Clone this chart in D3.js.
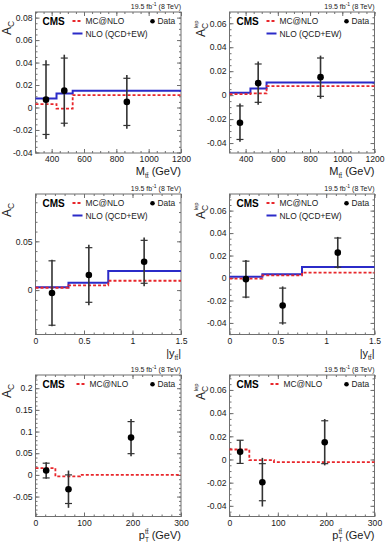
<!DOCTYPE html>
<html>
<head>
<meta charset="utf-8">
<script src="https://cdn.jsdelivr.net/npm/d3@7"></script>
<style>
body { margin: 0; background: #fff; }
text { font-family: "Liberation Sans", Arial, Helvetica, sans-serif; }
</style>
</head>
<body>
<script>
// bin edges (first / last edge = axis range)
var mttEdges = [300, 430, 530, 1200]
var yttEdges = [0, 0.34, 0.75, 1.5]
var ptEdges = [0, 41, 92, 300]

// where the data points sit inside each bin
var mttX = [365, 478, 865]
var yttX = [0.17, 0.55, 1.12]
var ptX = [22, 68, 197]

// tick labels
var mttTicks = [400, 600, 800, 1000, 1200]
var yttTicks = [0, 0.5, 1, 1.5]
var ptTicks = [0, 100, 200, 300]
var acTicksA = [-0.04, -0.02, 0, 0.02, 0.04, 0.06, 0.08]
var acTicksB = [-0.04, -0.02, 0, 0.02, 0.04, 0.06]
var acTicksC = [0, 0.05]
var acTicksD = [-0.05, 0, 0.05, 0.1, 0.15, 0.2]

// A_C vs M_tt
var acMtt = [0.007, 0.015, 0.005]
var acMttStat = [0.031, 0.029, 0.021]
var acMttTot = [0.035, 0.032, 0.024]
var acMttMc = [0.003, -0.001, 0.011]
var acMttNlo = [0.008, 0.0125, 0.015]

// A_C^lep vs M_tt
var alMtt = [-0.023, 0.010, 0.015]
var alMttStat = [0.014, 0.016, 0.016]
var alMttTot = [0.016, 0.018, 0.018]
var alMttMc = [0.0008, 0.0014, 0.0075]
var alMttNlo = [0.002, 0.0056, 0.0105]

// A_C vs |y_tt|
var acYtt = [-0.003, 0.0155, 0.029]
var acYttStat = [0.033, 0.028, 0.022]
var acYttTot = [0.034, 0.031, 0.025]
var acYttMc = [0.0024, 0.0049, 0.0096]
var acYttNlo = [0.0028, 0.0076, 0.0197]

// A_C^lep vs |y_tt|
var alYtt = [-0.001, -0.0245, 0.0226]
var alYttStat = [0.016, 0.0155, 0.013]
var alYttTot = [0.017, 0.017, 0.014]
var alYttMc = [-0.0005, 0.0024, 0.0048]
var alYttNlo = [0.0012, 0.0033, 0.0098]

// A_C vs pT_tt
var acPt = [0.010, -0.033, 0.086]
var acPtStat = [0.017, 0.033, 0.037]
var acPtTot = [0.019, 0.043, 0.043]
var acPtMc = [0.0154, -0.0035, 0.0]

// A_C^lep vs pT_tt
var alPt = [0.0066, -0.0196, 0.0149]
var alPtStat = [0.010, 0.016, 0.0185]
var alPtTot = [0.010, 0.021, 0.020]
var alPtMc = [0.0086, -0.0006, -0.0023]

var W = 385, H = 550
var cols = [{ left: 35.5, right: 181 }, { left: 229.5, right: 374.5 }]
var rows = [{ top: 12, bottom: 153 }, { top: 194, bottom: 334.5 }, { top: 375, bottom: 516.5 }]
var red = '#e8262b', blue = '#2b2bc8', ink = '#1a1a1a', frameCol = '#6f6f6f'

var svg = d3.select('body').append('svg')
    .attr('width', W)
    .attr('height', H)

var fmt = function (v) { return String(+v.toFixed(3)) }

// minor ticks between a and b
var minors = function (a, b, s) {
    var out = []
    for (var k = Math.ceil(a / s - 1e-9); k * s <= b + 1e-9; k++) out.push(+(k * s).toFixed(6))
    return out
}

var panels = [
    { col: 0, row: 0, xDom: [300, 1200], yDom: [-0.0405, 0.085], xTicks: mttTicks, xMinor: 50, yTicks: acTicksA, yMinor: 0.005,
      edges: mttEdges, px: mttX, val: acMtt, stat: acMttStat, tot: acMttTot, mc: acMttMc, nlo: acMttNlo, lep: false, xvar: 'mtt' },
    { col: 1, row: 0, xDom: [300, 1200], yDom: [-0.0483, 0.0694], xTicks: mttTicks, xMinor: 50, yTicks: acTicksB, yMinor: 0.005,
      edges: mttEdges, px: mttX, val: alMtt, stat: alMttStat, tot: alMttTot, mc: alMttMc, nlo: alMttNlo, lep: true, xvar: 'mtt' },
    { col: 0, row: 1, xDom: [0, 1.5], yDom: [-0.0455, 0.0985], xTicks: yttTicks, xMinor: 0.1, yTicks: acTicksC, yMinor: 0.01,
      edges: yttEdges, px: yttX, val: acYtt, stat: acYttStat, tot: acYttTot, mc: acYttMc, nlo: acYttNlo, lep: false, xvar: 'ytt' },
    { col: 1, row: 1, xDom: [0, 1.5], yDom: [-0.0503, 0.0748], xTicks: yttTicks, xMinor: 0.1, yTicks: acTicksB, yMinor: 0.005,
      edges: yttEdges, px: yttX, val: alYtt, stat: alYttStat, tot: alYttTot, mc: alYttMc, nlo: alYttNlo, lep: true, xvar: 'ytt' },
    { col: 0, row: 2, xDom: [0, 300], yDom: [-0.096, 0.2305], xTicks: ptTicks, xMinor: 20, yTicks: acTicksD, yMinor: 0.01,
      edges: ptEdges, px: ptX, val: acPt, stat: acPtStat, tot: acPtTot, mc: acPtMc, nlo: null, lep: false, xvar: 'pt' },
    { col: 1, row: 2, xDom: [0, 300], yDom: [-0.0492, 0.0729], xTicks: ptTicks, xMinor: 20, yTicks: acTicksB, yMinor: 0.005,
      edges: ptEdges, px: ptX, val: alPt, stat: alPtStat, tot: alPtTot, mc: alPtMc, nlo: null, lep: true, xvar: 'pt' }
]

var drawPanel = function (p) {
    var L = cols[p.col].left, R = cols[p.col].right
    var T = rows[p.row].top, B = rows[p.row].bottom
    var x = d3.scaleLinear().domain(p.xDom).range([L, R])
    var y = d3.scaleLinear().domain(p.yDom).range([B, T])
    var g = svg.append('g')

    var xMin = minors(p.xDom[0], p.xDom[1], p.xMinor)
    var yMin = minors(p.yDom[0], p.yDom[1], p.yMinor)

    // axes, ticks pointing inward on all four sides
    var put = function (ax, tx, ty) {
        var a = g.append('g').attr('transform', 'translate(' + tx + ',' + ty + ')').call(ax)
        a.select('.domain').remove()
        a.selectAll('line').attr('stroke', frameCol)
        return a
    }
    put(d3.axisBottom(x).tickValues(xMin).tickSize(-2).tickFormat(''), 0, B)
    put(d3.axisTop(x).tickValues(xMin).tickSize(-2).tickFormat(''), 0, T)
    put(d3.axisTop(x).tickValues(p.xTicks).tickSize(-4).tickFormat(''), 0, T)
    put(d3.axisLeft(y).tickValues(yMin).tickSize(-2).tickFormat(''), L, 0)
    put(d3.axisRight(y).tickValues(yMin).tickSize(-2).tickFormat(''), R, 0)
    put(d3.axisRight(y).tickValues(p.yTicks).tickSize(-4).tickFormat(''), R, 0)
    var xa = put(d3.axisBottom(x).tickValues(p.xTicks).tickSize(-4).tickPadding(3).tickFormat(fmt), 0, B)
    var ya = put(d3.axisLeft(y).tickValues(p.yTicks).tickSize(-4).tickPadding(3).tickFormat(fmt), L, 0)
    xa.selectAll('text').attr('font-size', 8.6).attr('fill', ink).attr('font-family', null)
    ya.selectAll('text').attr('font-size', 8.6).attr('fill', ink).attr('font-family', null)

    g.append('rect')
        .attr('x', L).attr('y', T)
        .attr('width', R - L).attr('height', B - T)
        .attr('fill', 'none').attr('stroke', frameCol).attr('stroke-width', 1)

    // predictions as step histograms
    var step = d3.line()
        .x(function (d) { return x(d[0]) })
        .y(function (d) { return y(d[1]) })
        .curve(d3.curveStepAfter)
    var stepPts = function (vals) {
        var pts = vals.map(function (v, i) { return [p.edges[i], v] })
        pts.push([p.edges[p.edges.length - 1], vals[vals.length - 1]])
        return pts
    }
    if (p.nlo) {
        g.append('path').attr('d', step(stepPts(p.nlo)))
            .attr('fill', 'none').attr('stroke', blue).attr('stroke-width', 2)
    }
    g.append('path').attr('d', step(stepPts(p.mc)))
        .attr('fill', 'none').attr('stroke', red).attr('stroke-width', 1.8)
        .attr('stroke-dasharray', '3,2')

    // data with total error bar, stat error as caps
    var pts = p.val.map(function (v, i) { return { x: p.px[i], v: v, s: p.stat[i], t: p.tot[i] } })
    var dg = g.selectAll('.pt').data(pts).enter().append('g')
    dg.append('line')
        .attr('x1', function (d) { return x(d.x) }).attr('x2', function (d) { return x(d.x) })
        .attr('y1', function (d) { return y(d.v + d.t) }).attr('y2', function (d) { return y(d.v - d.t) })
        .attr('stroke', '#333').attr('stroke-width', 1.6)
    ;[1, -1].forEach(function (sgn) {
        dg.append('line')
            .attr('x1', function (d) { return x(d.x) - 3.5 }).attr('x2', function (d) { return x(d.x) + 3.5 })
            .attr('y1', function (d) { return y(d.v + sgn * d.s) }).attr('y2', function (d) { return y(d.v + sgn * d.s) })
            .attr('stroke', '#333').attr('stroke-width', 1.2)
    })
    dg.append('circle')
        .attr('cx', function (d) { return x(d.x) })
        .attr('cy', function (d) { return y(d.v) })
        .attr('r', 3.3).attr('fill', '#000')

    // CMS label + legend
    g.append('text').attr('x', L + 7).attr('y', T + 13)
        .attr('font-size', 10).attr('font-weight', 'bold').attr('fill', '#000').text('CMS')
    var lx = p.nlo ? L + 37 : L + 41
    g.append('line').attr('x1', lx).attr('x2', lx + 10).attr('y1', T + 9).attr('y2', T + 9)
        .attr('stroke', red).attr('stroke-width', 1.8).attr('stroke-dasharray', '3,2')
    g.append('text').attr('x', lx + 13).attr('y', T + 12.3).attr('font-size', 8.4).attr('fill', ink).text('MC@NLO')
    g.append('circle').attr('cx', L + 117).attr('cy', T + 9.2).attr('r', 2.3).attr('fill', '#000')
    g.append('text').attr('x', L + 122).attr('y', T + 12.3).attr('font-size', 8.4).attr('fill', ink).text('Data')
    if (p.nlo) {
        g.append('line').attr('x1', lx).attr('x2', lx + 10).attr('y1', T + 21.5).attr('y2', T + 21.5)
            .attr('stroke', blue).attr('stroke-width', 2)
        g.append('text').attr('x', lx + 13).attr('y', T + 24.7).attr('font-size', 8.4).attr('fill', ink).text('NLO (QCD+EW)')
    }

    // luminosity
    var lumi = g.append('text').attr('x', R).attr('y', T - 3.5)
        .attr('text-anchor', 'end').attr('font-size', 7).attr('fill', ink)
    lumi.append('tspan').text('19.5 fb')
    lumi.append('tspan').attr('font-size', 5).attr('dy', -3).text('-1')
    lumi.append('tspan').attr('dy', 3).text(' (8 TeV)')

    // y title
    var yt = g.append('text')
        .attr('transform', 'translate(' + (L - 25) + ',' + (T + (p.lep ? 25 : 23)) + ') rotate(-90)')
        .attr('font-size', 12).attr('fill', ink)
    yt.append('tspan').text('A')
    yt.append('tspan').attr('font-size', 8.5).attr('dy', 3).text('C')
    if (p.lep) yt.append('tspan').attr('font-size', 6).attr('dx', -5.5).attr('dy', -10).text('lep')

    // x title
    var xt = g.append('text').attr('x', R).attr('y', B + 22)
        .attr('text-anchor', 'end').attr('font-size', 11).attr('fill', ink)
    if (p.xvar == 'mtt') {
        xt.append('tspan').text('M')
        xt.append('tspan').attr('font-size', 6.5).attr('dy', 3).text('tt\u0304')
        xt.append('tspan').attr('dy', -3).text(' (GeV)')
    } else if (p.xvar == 'ytt') {
        xt.append('tspan').text('|y')
        xt.append('tspan').attr('font-size', 6.5).attr('dy', 3.5).text('tt\u0304')
        xt.append('tspan').attr('dy', -3.5).text('|')
    } else {
        xt.append('tspan').text('p')
        xt.append('tspan').attr('font-size', 6.5).attr('dy', 3).text('T')
        xt.append('tspan').attr('font-size', 6.5).attr('dx', -4).attr('dy', -8).text('tt\u0304')
        xt.append('tspan').attr('dy', 5).text(' (GeV)')
    }
}

panels.forEach(drawPanel)
</script>
</body>
</html>
